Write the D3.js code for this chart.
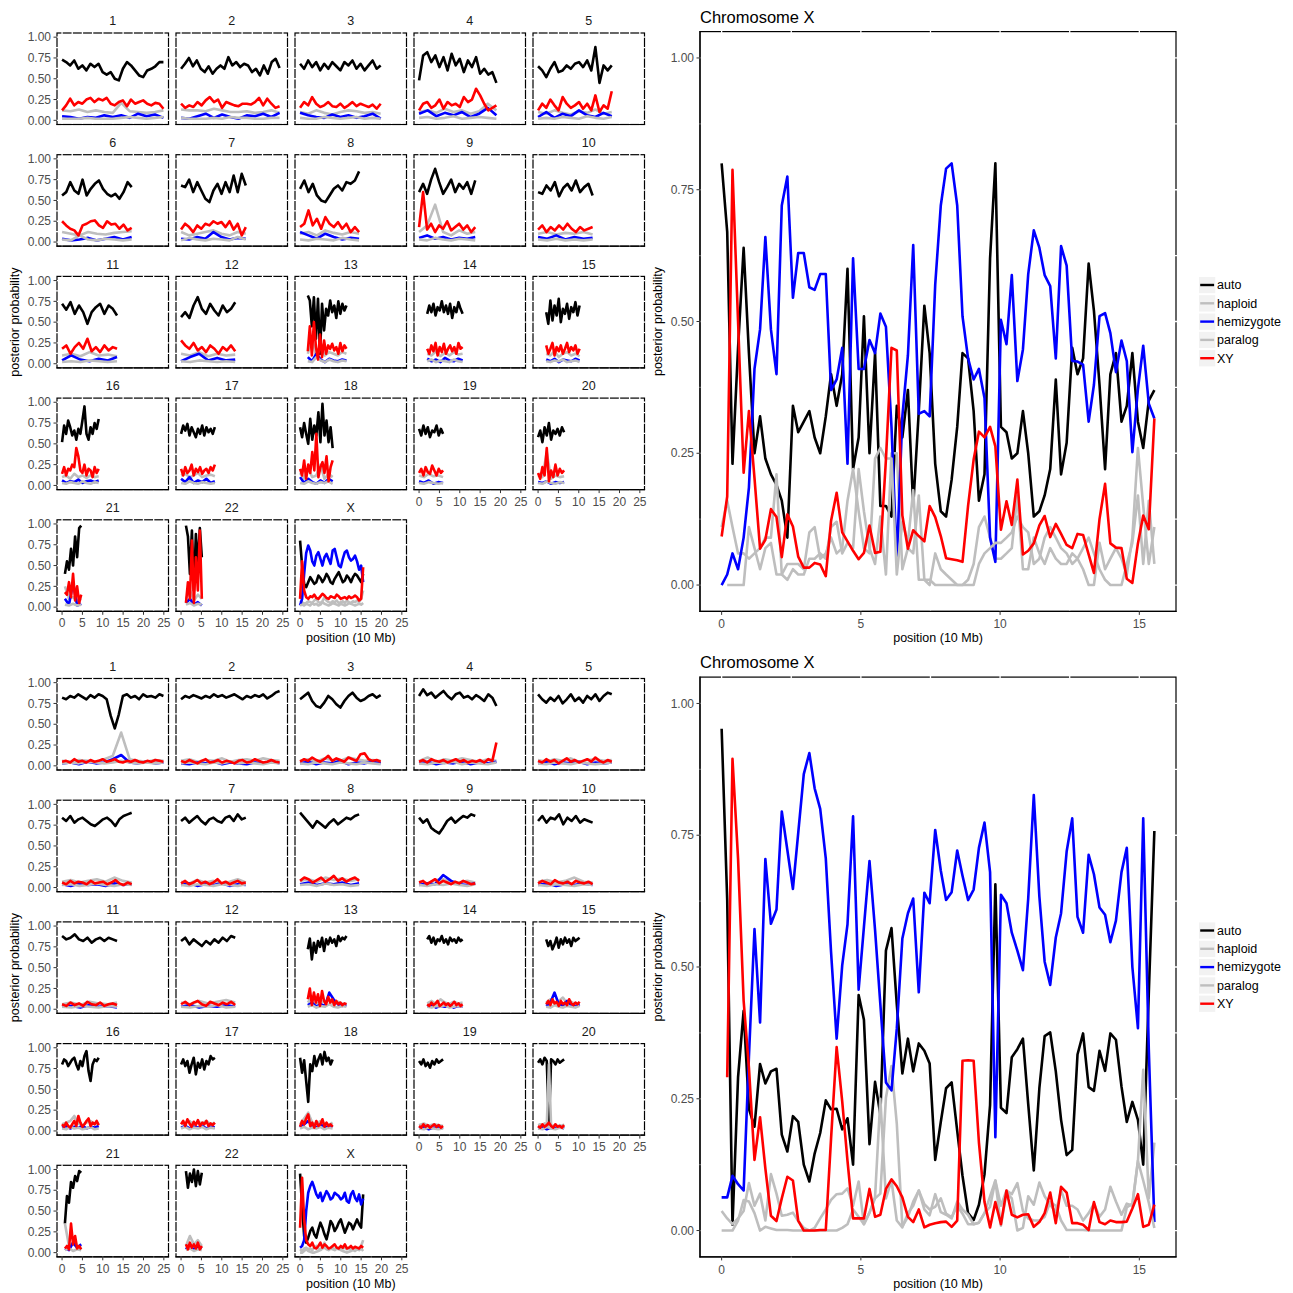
<!DOCTYPE html>
<html><head><meta charset="utf-8">
<script src="https://cdn.jsdelivr.net/npm/d3@7"></script>
<style>body{margin:0;background:#fff;} text{font-family:"Liberation Sans",Arial,sans-serif;}</style>
</head><body><svg id="c" width="1293" height="1293"></svg>
<script>
// ---------------- DATA ----------------
const chromosomes = ["1","2","3","4","5","6","7","8","9","10","11","12","13","14","15","16","17","18","19","20","21","22","X"];
const chromStart = [0,0,0,0,0,0,0,0,0,0,0,0,1.9,2.0,2.0,0,0,0,0,0,0.7,1.2,0];
const chromEnd = [24.9,24.2,19.8,19.0,18.1,17.1,15.9,14.5,13.8,13.4,13.5,13.3,11.4,10.7,10.2,9.0,8.3,8.0,5.9,6.4,4.7,5.1,15.5];
const seriesNames = ["auto","haploid","hemizygote","paralog","XY"];
const seriesColors = ["#000000","#bebebe","#0000ff","#bebebe","#ff0000"];
const yTicks = [0,0.25,0.5,0.75,1];
const yTickLabels = ["0.00","0.25","0.50","0.75","1.00"];
const xTicksSmall = [0,5,10,15,20,25];
const xTicksBig = [0,5,10,15];
const gridXSmall = [0,2.5,5,7.5,10,12.5,15,17.5,20,22.5,25];
const gridXBig = [0,2.5,5,7.5,10,12.5,15];
const gridY = [0,0.125,0.25,0.375,0.5,0.625,0.75,0.875,1];

// chromosome X window positions (10 Mb) for the large panels
const xPos = [0,0.2,0.39,0.59,0.79,0.98,1.18,1.38,1.57,1.77,1.97,2.16,2.36,2.56,2.75,2.95,3.15,3.34,3.54,3.74,3.93,4.13,4.33,4.52,4.72,4.92,5.11,5.31,5.51,5.7,5.9,6.1,6.29,6.49,6.69,6.88,7.08,7.28,7.47,7.67,7.87,8.06,8.26,8.46,8.65,8.85,9.05,9.24,9.44,9.64,9.83,10.03,10.23,10.42,10.62,10.82,11.01,11.21,11.41,11.6,11.8,12,12.19,12.39,12.59,12.78,12.98,13.18,13.37,13.57,13.77,13.96,14.16,14.36,14.55,14.75,14.95,15.14,15.34,15.54];

// ---- top: chromosome X, large panel (posterior x100)
const xAutoTop = [80,67,23,45,64,44,25,32,24,21,19,16,9,34,29,31,33,28,25,32,40,34,40,60,22,28,51,25,44,15,15,13,34,28,37,15,33,53,44,23,14,13,20,30,44,43,33,16,21,62,80,30,29,24,25,33,25,13,14,17,22,39,21,27,45,40,43,61,52,38,22,40,44,31,34,44,31,26,35,37];
const xHaplTop = [11,16,11,6,6,5,6,7,9,9,21,2,1,3,2,2,5,5,6,5,11,12,6,8,7,22,14,7,4,13,2,25,25,3,7,6,17,1,1,0,0,0,0,0,0,1,4,11,13,9,5,5,6,7,17,3,3,9,6,4,7,5,4,4,6,5,3,0,0,8,3,5,7,5,2,9,26,15,4,11];
const xHemiTop = [0,2,6,3,9,18.5,41,48.5,66,48.5,40,72,77.5,54.5,63,63,56.5,56,59,59,37,39,45,23,62,41,41,46.5,44,51.5,49,30,4.7,32,43.6,64.5,32.5,33,32,57,72,79,80,72,51,43,39,41,35.5,9,4.4,50.3,45.7,58.8,38.7,44.7,59,67.3,64,58.8,56.7,43,64.3,60.6,42.5,42.4,41.8,31,38,51,51.6,47.8,40.4,46.4,42.5,25.2,37.2,45.4,34.4,31.6];
const xParaTop = [null,0,0,0,0,11,7,3,7,8,2,2,4,4,4,3,10,11,5,6,9,6,7,16,22,14,7,6,24,26,24,24,2,12,8,18,1,1,0,6,3,2,1,0,0,0,0,4,6,7,8,8,9,10,13,11,10,4,5,9,11,9,7,6,4,5,7,9,6,3,1,0,0,0,4,8,17,4,16,4];
const xXYTop = [9.2,16.8,78.8,50,21.3,33,20.3,6.9,8.6,14.4,12.9,5.3,13.4,11.1,5.4,3.3,3.3,4.2,3.9,1.7,12.2,17.5,10,8.3,6.5,4.9,6.1,11.3,6.1,6.3,23.8,45,44.5,13.2,6.9,10.4,9.3,8.3,15,12.9,9.3,5.1,4.9,4.7,4.4,15,23.8,29.1,28,30,26.3,10.5,15.9,11.4,20,5.8,6.5,7.9,11.3,13.1,9.1,11.6,9.7,7.6,7,9.7,9.5,5.8,2.3,12.5,19.2,7.9,7.1,7,1.2,0.4,7.9,13.2,10.6,31.6];

// ---- bottom: chromosome X, large panel
const xAutoBot = [95.2,62.7,1.1,29.1,41.7,23.1,19.7,31.6,27.9,30.2,30.7,18.2,15,21.7,20.6,12.5,9.3,14.6,18.5,24.7,23,23.1,19.2,21.3,12.5,44.7,40,16.4,28.2,22,53.1,57.4,42.9,29.8,36.4,30.2,35.5,34.1,31.7,13.4,20.6,27,28.1,18.9,10.4,3.3,2,4.9,10.7,23.8,65.7,23.3,22.3,32.9,34.4,36.4,24,11.4,27,36.9,37.6,30.2,21,14.3,15.3,33.4,37.4,27.2,26.5,34.1,30.3,37.4,36.2,27.3,20.6,24.4,21,12.5,45,75.8];
const xHaplBot = [3.7,2.3,1.2,2.3,3.7,9,4.7,7,1.9,10.7,7,2.8,3,3.4,1.8,0.5,0,0.5,2.3,4,5.8,6.9,7,8,4.7,9.3,1.2,3.4,6.1,7,25.2,31.2,20.3,0.8,2.6,5.5,7.6,4,2.9,6.9,3.5,3,2.3,5.5,4,3,1.2,1.5,3.3,6.5,9.5,0.9,7.2,6.1,0,0.5,6.5,4.9,9.1,6.5,4.9,3.5,7.6,4.7,4.7,4,1.9,3.3,5.1,2.6,4,8.3,5.5,3,5.1,4.7,13.2,30.5,6.1,16.7];
const xHemiBot = [6.3,6.3,10.4,8.8,7.6,33,57.2,39.5,70.5,58.2,60.9,79.5,72.2,64.8,75.4,86.6,90.6,83.9,80,70.6,52.8,36.4,50.3,58.1,78.6,45.7,57.6,70.1,57,42.9,28.1,26.6,38.3,55.4,60.2,63,45.2,64.1,62.1,76,68.3,62.7,64.2,72.1,67.3,62.7,64.7,72.6,77.4,68,17.7,63.7,62.1,56.5,53.1,49.4,63,82.6,63.4,51,46.6,55.6,60.2,71.9,78.2,59.5,56.5,71.3,67.6,61.3,59.9,54.7,58.8,68,72.6,50,38.4,78.2,34.4,1.6];
const xParaBot = [0,0,0,1.9,5.8,5.5,3.3,0,0.7,0.4,0.1,0.1,0.1,0,0,0,0,0,0,0,0,0,0.5,1.2,4,2.6,1.2,3.4,6.4,25,6.1,9.5,1.9,0.6,3.3,4.7,7.6,5,4,4.5,6.1,3.2,2.5,4.7,3.2,1.2,1.2,1.5,3.3,4.5,9.5,4.7,7.6,6.9,9,3.7,2.3,1.9,1.9,2.6,5.4,4.7,1.9,0.1,0.1,0.1,0.1,0,0,0,0,0,0,0,4.4,5.1,13.2,9.5,5.3,0.5];
const xXYBot = [null,29.1,89.5,70.5,43.6,30.9,13.4,21.5,11.8,2.8,1.8,6.1,10.2,9.5,1.9,0,0,0,0.1,0.1,17.5,34.8,24.5,13.2,2.3,2.3,2.3,7.9,2.6,3,7.9,9.7,8.4,6.3,2.6,1.6,4,0.6,1.1,1.4,1.6,1.7,0.7,1.9,32.2,32.3,32.2,16.7,5.4,0.6,5.4,1.2,7.6,3,2.5,3,3.1,0.7,1.6,3.3,7.2,1.4,8.3,7.2,1.4,1.4,1.1,0.1,5.4,1.6,1.2,1.9,1.6,1.6,1.7,4.2,6.9,0.7,1.1,4.9];

// ---- top: autosomes + X facet (posterior x100, windows evenly spread along each chromosome)
const autoTop = [
[73,70,66,72,62,66,60,68,64,68,58,55,58,50,48,62,70,66,60,54,52,60,62,65,70,70],
[62,68,75,65,72,62,58,65,56,62,66,62,76,66,70,64,68,66,58,62,54,66,56,70,74,63],
[68,62,72,64,70,60,68,62,70,65,60,70,66,72,62,68,60,66,72,62,66],
[48,78,82,70,78,64,76,60,80,66,74,58,72,64,76,56,62,55,58,45],
[65,60,52,62,70,58,60,66,62,68,70,64,72,60,88,45,66,60,66],
[56,60,72,62,58,75,56,64,70,74,64,58,55,58,52,60,72,66],
[68,66,75,60,72,62,52,48,62,70,58,72,60,80,60,82,68],
[64,74,60,70,56,50,48,56,64,68,62,72,70,74,85],
[60,70,58,75,88,72,58,66,75,60,70,64,72,58,74],
[60,58,68,62,72,55,65,70,62,74,60,66,70,56],
[72,65,74,60,70,62,48,62,68,72,60,70,66,58],
[56,62,55,70,80,66,60,72,64,58,70,62,66,74],
[82,76,45,80,30,78,12,72,40,66,58,76,62,70,55,75,60,72,64,70],
[60,70,62,72,58,68,64,75,62,70,60,72,55,68,62,74,66,60],
[62,48,76,52,70,58,78,50,66,60,72,54,68,62,74,58,70],
[52,72,62,78,70,60,66,55,68,62,78,95,62,55,70,62,75,68,80],
[62,72,66,74,60,70,64,58,68,62,72,60,70,64,68,62,70],
[70,58,75,62,50,80,55,72,60,88,52,98,60,78,52,70,45],
[68,60,72,62,70,58,66,64,72,60,68,62],
[58,66,52,70,60,75,55,66,62,68,60,70,64],
[40,55,45,70,50,85,60,95,98],
[98,85,40,92,20,88,50,95,60],
[80,50,28,24,30,36,32,28,30,38,35,30,34,40,36,30,28,34,38,42,36,30,32,38,35,30,36,40,38,34,30,40]];
const xyTop = [
[12,18,26,18,22,20,25,27,22,26,24,27,20,18,22,24,17,25,20,22,24,20,18,21,20,14],
[20,15,18,16,22,18,24,28,22,25,15,22,20,18,17,20,20,19,22,27,18,26,20,15,17],
[15,22,18,28,20,16,18,22,17,16,20,15,18,22,17,20,18,16,19,14,20],
[12,20,22,15,18,25,14,22,18,20,16,28,22,25,38,30,20,12,15,18],
[12,20,15,25,18,12,28,20,15,18,22,14,20,12,30,10,18,14,35],
[25,20,16,14,8,20,22,25,26,20,17,25,21,22,16,21,14,17],
[15,22,18,12,20,16,22,20,25,22,24,18,25,15,22,8,18],
[18,22,38,20,28,16,30,22,18,24,16,22,12,18,12],
[18,60,15,22,12,20,16,25,14,18,22,15,20,12,18],
[15,20,12,18,14,20,15,22,16,12,18,14,16,18],
[18,22,12,20,25,18,30,15,20,14,22,16,20,18],
[28,22,18,25,16,20,14,22,18,12,20,16,22,15],
[15,45,10,50,20,5,35,8,28,12,22,18,24,16,20,12,25,15,22,18],
[18,12,22,15,25,10,20,14,24,12,18,22,15,20,12,25,18,20],
[22,12,18,25,10,20,15,22,12,18,25,14,20,16,22,12,18],
[14,22,12,20,18,25,22,45,35,18,15,25,12,20,18,10,22,15,20],
[20,12,22,15,18,25,12,20,16,22,14,18,20,15,22,18,25],
[20,12,30,8,25,15,40,18,62,10,22,28,15,35,5,22,30],
[15,20,12,22,16,14,24,18,12,20,15,18],
[15,8,22,12,45,5,18,10,25,12,20,15,18],
[18,15,30,12,40,8,25,5,15],
[5,30,10,80,5,60,20,92,10],
[10,55,20,12,10,13,12,15,11,10,13,16,14,11,10,13,12,11,15,13,10,11,12,10,13,11,12,14,12,8,10,48]];
const hemiTop = [
[5,4,2,4,3,6,4,6,3,8,5,7,3],
[3,2,5,8,3,7,4,2,6,5,8,4,9],
[9,6,4,3,7,4,6,3,5,8,2],
[8,12,5,9,6,10,4,8,15,6],
[4,10,3,8,5,12,6,4,9,5],
[4,2,3,5,2,4,6,3,6],
[4,3,6,4,12,6,3,5,4],
[12,8,4,10,6,3,5,4],
[5,8,4,6,3,5,4,6],
[6,4,8,3,6,4,5],
[4,10,5,3,6,4,8],
[3,8,12,4,7,4,5],
[8,3,12,5,2,6,4,3,5,4],
[6,3,5,2,7,4,3,6,4],
[5,3,6,2,5,4,3,6,4],
[6,3,5,4,7,3,5,6,4,6],
[8,4,10,3,6,4,8,3,5],
[10,3,8,4,2,6,3,8,5],
[5,3,6,2,4,3],
[4,3,5,2,4,3,4],
[10,3,30,2,4],
[5,10,3,6,2],
[2,10,40,65,74,68,55,50,62,66,58,50,60,64,58,52,68,70,60,50,48,58,66,68,60,56,58,62,55,45,50,30]];
const haploidTop = [
[12,11,13,10,12,10,9,21,11,10,9,10,12],
[13,12,12,11,14,12,10,10,11,9,10,12,9],
[10,8,12,9,7,10,12,11,9,10,8],
[10,12,9,14,10,12,8,11,20,12],
[10,8,12,9,7,11,9,13,8,10],
[12,10,8,12,10,9,11,12,13],
[12,8,10,12,14,10,8,12,10],
[10,12,8,14,11,9,12,10],
[12,20,45,12,8,14,10,12],
[10,12,9,11,10,12,9],
[10,12,9,14,10,11,9],
[12,10,14,9,12,10,11],
[12,30,8,22,10,14,12,10,14,12],
[12,10,15,9,13,10,14,11,12],
[12,10,15,8,12,14,10,12,9],
[10,12,8,14,10,12,9,12,10,11],
[12,14,10,12,15,10,12,13,11],
[15,8,20,10,12,25,8,14,10],
[12,10,14,11,12,10],
[12,10,40,8,12,10,11],
[25,10,12,8,10],
[10,20,8,15,10],
[8,6,4,5,7,6,5,8,10,6,5,7,12,8,6,5,7,6,8,5,6,7,5,8,6,5,7,6,8,6,10,20]];
const paralogTop = [
[2,2,2,3,2,2,2,3,4,3,2,3,4],
[3,2,2,2,3,2,4,3,3,2,2,3,3],
[3,2,2,4,3,2,3,4,2,3,2],
[3,4,2,3,5,2,3,4,3,2],
[2,3,2,4,3,2,5,3,2,4],
[3,2,8,3,2,4,3,2,3],
[2,5,3,2,4,3,2,6,3],
[3,2,4,3,2,5,3,2],
[3,2,5,3,2,4,3,2],
[3,2,4,2,3,2,3],
[2,3,2,4,3,2,3],
[3,2,4,3,2,3,2],
[3,2,8,4,2,5,3,2,4,3],
[3,5,2,4,3,2,5,3,2],
[3,2,4,3,5,2,3,4,2],
[3,2,4,3,2,5,3,2,4,3],
[3,2,5,3,2,4,3,2,3],
[3,2,5,3,2,4,3,5,2],
[3,2,4,3,2,3],
[3,2,5,3,2,4,3],
[3,2,4,2,3],
[3,5,2,4,3],
[2,3,2,4,3,2,5,3,4,2,3,6,4,3,2,3,5,4,3,2,4,3,2,3,5,4,3,2,3,4,3,5]];

// ---- bottom: autosomes + X facet
const autoBot = [
[82,80,84,82,86,83,80,85,82,86,84,80,60,45,62,84,86,82,84,80,86,83,84,82,86,84],
[80,84,82,85,83,81,84,82,86,83,85,82,84,86,83,80,84,82,85,83,86,81,84,88,90],
[80,84,88,78,72,70,76,84,80,74,70,78,84,88,82,78,80,84,86,82,85],
[84,92,85,88,82,86,90,84,80,86,88,82,84,80,85,82,78,86,82,72],
[86,80,76,82,78,84,75,80,86,78,82,76,84,80,86,78,84,88,86],
[84,80,86,78,82,84,80,76,74,78,82,84,80,74,82,86,88,90],
[80,84,78,82,86,80,76,82,84,80,78,84,86,80,88,82,84],
[90,84,78,72,80,76,72,78,82,76,80,84,82,86,88],
[84,78,82,72,68,65,72,80,84,78,82,86,84,88,86],
[80,86,78,84,82,88,76,84,80,86,78,82,80,78],
[88,84,86,90,84,82,86,80,84,86,82,86,84,82],
[82,86,78,84,80,76,82,78,84,80,86,82,88,86],
[72,85,60,80,68,82,75,86,70,84,78,86,80,84,76,88,82,86,84,88],
[84,88,80,86,78,84,82,88,80,84,78,86,82,84,80,86,82,84],
[84,76,82,72,78,86,74,84,78,86,80,84,76,86,82,84,86],
[80,86,84,78,82,86,88,80,74,84,78,90,96,72,60,80,86,84,88],
[80,86,78,84,70,80,88,68,82,76,86,74,84,80,90,86,88],
[88,70,85,60,35,80,72,90,78,86,92,80,95,84,88,80,86],
[84,80,86,78,82,76,84,80,86,82,84,86],
[82,86,80,88,84,8,86,84,80,86,82,84,86],
[35,68,60,85,78,92,86,98,96],
[98,78,95,85,100,80,98,82,96],
[95,55,20,12,18,26,30,22,18,28,36,30,22,16,26,38,34,26,30,36,40,32,24,30,36,34,28,34,40,34,30,70]];
const xyBot = [
[5,6,4,8,5,6,4,7,5,6,8,5,6,8,5,4,6,5,7,5,4,6,5,7,6,5],
[6,4,7,5,3,6,8,4,5,7,4,6,5,3,6,7,4,5,8,6,4,5,7,5,4],
[5,8,6,10,7,5,8,12,6,9,7,5,10,8,6,14,15,8,6,7,5],
[5,7,4,8,6,5,7,4,6,8,5,7,4,6,5,7,4,8,6,28],
[6,4,8,5,7,3,6,9,5,7,4,6,8,5,10,6,4,7,5],
[6,4,8,5,7,6,4,8,5,6,7,4,6,9,5,3,6,4],
[5,8,4,6,9,5,7,4,6,10,5,7,4,6,8,5,6],
[8,12,10,6,9,12,7,10,14,8,11,7,10,12,8],
[6,8,4,7,10,5,8,6,4,7,5,8,6,4,5],
[5,8,6,4,9,6,5,7,4,8,6,5,7,4],
[6,4,8,5,7,4,9,6,5,8,4,6,7,5],
[6,9,5,8,10,6,4,9,7,5,8,6,9,5],
[12,25,5,20,8,18,4,22,10,6,15,8,12,5,10,6,8,5,7,6],
[6,4,8,5,7,10,4,6,8,5,7,4,6,9,5,7,4,6],
[6,10,5,12,7,9,4,10,6,8,5,12,7,5,8,6,9],
[8,5,10,6,4,8,12,6,18,10,5,8,12,15,6,10,8,12,7],
[8,12,6,14,9,5,11,7,13,6,10,8,12,6,9,7,10],
[5,12,8,15,20,6,10,4,12,6,8,14,5,10,6,8,5],
[6,4,8,5,7,4,6,8,5,7,4,6],
[6,4,8,5,7,10,6,4,8,5,6,4,7],
[5,8,4,35,10,20,5,8,4],
[10,4,12,6,10,5,12,4,8],
[30,90,40,15,10,8,12,6,5,8,12,6,10,8,5,6,8,10,6,5,8,6,10,5,6,8,5,7,6,5,8,6]];
const hemiBot = [
[3,4,2,5,3,4,8,13,4,3,5,3,4],
[3,2,4,3,5,2,4,3,2,4,3,5,3],
[3,5,2,4,3,6,2,4,3,5,3],
[3,5,2,4,3,5,2,4,3,5],
[3,5,2,4,3,5,2,4,3,4],
[4,2,5,3,4,2,5,3,4],
[3,5,2,4,3,5,2,4,3],
[4,6,3,5,4,6,3,5],
[3,5,4,15,8,4,3,5],
[3,5,2,4,3,5,3],
[3,4,2,5,3,4,2],
[3,5,2,4,3,5,3],
[5,8,3,6,4,20,12,6,4,5],
[3,5,2,4,3,5,2,4,3],
[4,8,20,6,4,10,5,3,6],
[4,6,3,5,4,6,3,5,4,6],
[4,6,3,5,4,6,3,5,4],
[4,8,12,6,4,8,5,4,6],
[3,5,2,4,3,4],
[3,5,2,4,3,5,3],
[5,3,12,6,10],
[4,10,3,8,5],
[6,8,15,50,72,80,85,78,70,66,72,62,68,74,70,64,66,72,70,68,64,66,72,62,60,70,74,66,62,70,58,65]];
const haploidBot = [
[6,5,7,6,5,8,12,40,8,6,5,7,6],
[6,8,5,7,6,9,5,7,8,6,9,7,6],
[6,8,5,9,7,6,10,8,6,7,6],
[6,10,5,8,6,9,7,5,8,6],
[7,5,8,6,9,5,7,8,6,7],
[7,9,6,8,10,7,12,8,6],
[7,5,9,6,8,5,7,10,6],
[8,10,7,12,9,11,8,10],
[7,5,9,10,7,6,8,6],
[7,9,6,8,12,7,6],
[6,8,5,9,7,6,8],
[8,6,10,7,9,11,8],
[8,15,6,10,8,12,6,9,7,6],
[7,10,6,12,8,6,9,7,8],
[8,12,6,10,14,7,9,6,8],
[8,10,12,18,9,7,10,12,8,9],
[8,10,12,7,11,9,12,8,10],
[8,15,22,10,8,12,9,7,10],
[7,9,6,8,7,6],
[7,8,6,9,6,80,7,6,8,5,7,6,8],
[35,8,12,6,8],
[8,20,10,15,8],
[4,2,5,6,4,5,3,6,8,5,4,6,12,6,4,5,6,4,5,6,4,5,6,4,5,4,6,5,4,6,8,15]];
const paralogBot = [
[3,4,3,5,4,3,4,6,4,3,4,3,4],
[3,4,3,2,4,3,5,3,4,3,2,4,3],
[3,2,4,3,2,4,3,2,4,3,2],
[3,2,4,3,5,2,4,3,2,4],
[3,2,4,3,2,4,3,2,3,4],
[3,4,2,3,5,3,2,4,3],
[3,2,4,3,2,4,3,2,4],
[3,4,2,5,3,4,2,3],
[3,2,4,3,5,3,2,4],
[3,2,4,3,2,4,3],
[3,2,4,3,2,4,3],
[3,2,4,3,5,2,3],
[3,5,2,4,3,6,3,2,4,3],
[3,2,4,3,5,2,3,4,3],
[3,2,5,3,2,4,3,2,4],
[3,2,5,3,4,2,3,5,2,3],
[3,5,2,4,3,5,2,4,3],
[3,5,2,4,3,5,2,4,3],
[3,2,4,3,2,3],
[3,2,5,3,2,4,3],
[3,5,2,4,3],
[3,5,2,4,3],
[0,0,2,4,2,1,0,0,1,2,3,5,6,4,3,5,4,3,5,4,3,2,1,0,1,2,3,2,4,3,5,2]];

// ---------------- DRAWING ----------------
const svg = d3.select("#c");
const halves = [
  {dy: 0, auto: autoTop, haploid: haploidTop, hemizygote: hemiTop, paralog: paralogTop, XY: xyTop,
   xs: {auto: xAutoTop, haploid: xHaplTop, hemizygote: xHemiTop, paralog: xParaTop, XY: xXYTop}},
  {dy: 645.5, auto: autoBot, haploid: haploidBot, hemizygote: hemiBot, paralog: paralogBot, XY: xyBot,
   xs: {auto: xAutoBot, haploid: xHaplBot, hemizygote: xHemiBot, paralog: xParaBot, XY: xXYBot}}
];

const P = {colX: [57, 176, 295, 414, 533], w: 111.5, row0: 33, rowStep: 121.7, h: 91.5};
const xs = d3.scaleLinear().domain([-1.245, 26.145]).range([0, P.w]);
const ys = d3.scaleLinear().domain([-0.05, 1.05]).range([P.h, 0]);
const B = {x: 700, y: 31.6, w: 476, h: 579.8};
const xb = d3.scaleLinear().domain([-0.777, 16.317]).range([0, B.w]);
const yb = d3.scaleLinear().domain([-0.05, 1.05]).range([B.h, 0]);

const defs = svg.append("defs");
defs.append("clipPath").attr("id", "clipS").append("rect").attr("width", P.w).attr("height", P.h);
defs.append("clipPath").attr("id", "clipB").append("rect").attr("width", B.w).attr("height", B.h);

const TICKCOL = "#4d4d4d";
function frame(g, w, h, xsc, ysc, gx, solidLeft) {
  g.append("rect").attr("width", w).attr("height", h).attr("fill", "#fff")
    .attr("stroke", "#000").attr("stroke-width", 1.2);
  g.selectAll("line.gx").data(gx).enter().append("line")
    .attr("x1", d => xsc(d)).attr("x2", d => xsc(d)).attr("y1", -1).attr("y2", h + 1)
    .attr("stroke", "#fff").attr("stroke-width", 1.3);
  g.selectAll("line.gy").data(gridY).enter().append("line")
    .attr("y1", d => ysc(d)).attr("y2", d => ysc(d)).attr("x1", -1).attr("x2", w + 1)
    .attr("stroke", "#fff").attr("stroke-width", 1.3);
  g.append("line").attr("x1", -0.6).attr("x2", w + 0.6).attr("y1", h).attr("y2", h)
    .attr("stroke", "#000").attr("stroke-width", 1.2);
  if (solidLeft) g.append("line").attr("x1", 0).attr("x2", 0).attr("y1", -0.6).attr("y2", h + 0.6)
    .attr("stroke", "#000").attr("stroke-width", 1.2);
}

function drawLines(g, seriesList, xsc, ysc, lw, clip) {
  const line = d3.line().defined(d => d.v != null).x(d => xsc(d.x)).y(d => ysc(d.v));
  const lg = g.append("g").attr("clip-path", `url(#${clip})`);
  seriesList.forEach((pts, k) => {
    lg.append("path").datum(pts).attr("d", line).attr("fill", "none")
      .attr("stroke", seriesColors[k]).attr("stroke-width", lw)
      .attr("stroke-linejoin", "round").attr("stroke-linecap", "butt");
  });
}

function facetPoints(vals, c) {
  const s = chromStart[c], e = chromEnd[c], n = vals.length;
  return vals.map((v, k) => ({x: s + (e - s) * k / (n - 1), v: v / 100}));
}
function xPoints(vals) {
  return vals.map((v, k) => ({x: xPos[k], v: v == null ? null : v / 100}));
}

halves.forEach(H => {
  const root = svg.append("g").attr("transform", `translate(0,${H.dy})`);
  chromosomes.forEach((ch, c) => {
    const col = c % 5, row = Math.floor(c / 5);
    const px = P.colX[col], py = P.row0 + row * P.rowStep;
    const g = root.append("g").attr("transform", `translate(${px},${py})`);
    frame(g, P.w, P.h, xs, ys, gridXSmall, false);
    const list = seriesNames.map(s => facetPoints(H[s][c], c));
    drawLines(g, list, xs, ys, 2.6, "clipS");
    g.append("text").attr("x", P.w / 2).attr("y", -12).attr("dy", "0.35em")
      .attr("text-anchor", "middle").attr("font-size", 12.5).attr("fill", "#1a1a1a").text(ch);
    if (col === 0) {
      yTicks.forEach((t, i) => {
        g.append("line").attr("x1", -3.5).attr("x2", 0).attr("y1", ys(t)).attr("y2", ys(t))
          .attr("stroke", "#333").attr("stroke-width", 1);
        g.append("text").attr("x", -6).attr("y", ys(t)).attr("dy", "0.35em").attr("text-anchor", "end")
          .attr("font-size", 12).attr("fill", TICKCOL).text(yTickLabels[i]);
      });
    }
    const lastRow = (col <= 2) ? 4 : 3;
    if (row === lastRow) {
      xTicksSmall.forEach(t => {
        g.append("line").attr("x1", xs(t)).attr("x2", xs(t)).attr("y1", P.h).attr("y2", P.h + 3.5)
          .attr("stroke", "#333").attr("stroke-width", 1);
        g.append("text").attr("x", xs(t)).attr("y", P.h + 12).attr("dy", "0.35em").attr("text-anchor", "middle")
          .attr("font-size", 12).attr("fill", TICKCOL).text(t);
      });
    }
  });
  root.append("text").attr("x", (P.colX[0] + P.colX[4] + P.w) / 2).attr("y", 638).attr("dy", "0.35em")
    .attr("text-anchor", "middle").attr("font-size", 12.5).attr("fill", "#000").text("position (10 Mb)");
  root.append("text").attr("transform", `translate(15,${(P.row0 + 4 * P.rowStep + P.h + P.row0) / 2}) rotate(-90)`)
    .attr("dy", "0.35em").attr("text-anchor", "middle").attr("font-size", 12.5).attr("fill", "#000")
    .text("posterior probability");

  const gb = root.append("g").attr("transform", `translate(${B.x},${B.y})`);
  frame(gb, B.w, B.h, xb, yb, gridXBig, true);
  drawLines(gb, seriesNames.map(s => xPoints(H.xs[s])), xb, yb, 2.6, "clipB");
  yTicks.forEach((t, i) => {
    gb.append("line").attr("x1", -3.5).attr("x2", 0).attr("y1", yb(t)).attr("y2", yb(t))
      .attr("stroke", "#333").attr("stroke-width", 1);
    gb.append("text").attr("x", -6).attr("y", yb(t)).attr("dy", "0.35em").attr("text-anchor", "end")
      .attr("font-size", 12).attr("fill", TICKCOL).text(yTickLabels[i]);
  });
  xTicksBig.forEach(t => {
    gb.append("line").attr("x1", xb(t)).attr("x2", xb(t)).attr("y1", B.h).attr("y2", B.h + 3.5)
      .attr("stroke", "#333").attr("stroke-width", 1);
    gb.append("text").attr("x", xb(t)).attr("y", B.h + 12.5).attr("dy", "0.35em").attr("text-anchor", "middle")
      .attr("font-size", 12).attr("fill", TICKCOL).text(t);
  });
  root.append("text").attr("x", B.x).attr("y", 22.5).attr("font-size", 16.5).attr("fill", "#000").text("Chromosome X");
  root.append("text").attr("x", B.x + B.w / 2).attr("y", 638).attr("dy", "0.35em").attr("text-anchor", "middle")
    .attr("font-size", 12.5).attr("fill", "#000").text("position (10 Mb)");
  root.append("text").attr("transform", `translate(658,${B.y + B.h / 2}) rotate(-90)`).attr("dy", "0.35em")
    .attr("text-anchor", "middle").attr("font-size", 12.5).attr("fill", "#000").text("posterior probability");

  const lg = root.append("g").attr("transform", "translate(1198.5,285)");
  seriesNames.forEach((s, i) => {
    const cy = i * 18.3;
    lg.append("rect").attr("x", 0).attr("y", cy - 8.6).attr("width", 17.3).attr("height", 17.3)
      .attr("fill", "#f2f2f2").attr("stroke", "#fff").attr("stroke-width", 1);
    lg.append("line").attr("x1", 1.7).attr("x2", 15.6).attr("y1", cy).attr("y2", cy)
      .attr("stroke", seriesColors[i]).attr("stroke-width", 2.4);
    lg.append("text").attr("x", 18.5).attr("y", cy).attr("dy", "0.35em").attr("font-size", 12.5)
      .attr("fill", "#000").text(s);
  });
});
</script></body></html>
